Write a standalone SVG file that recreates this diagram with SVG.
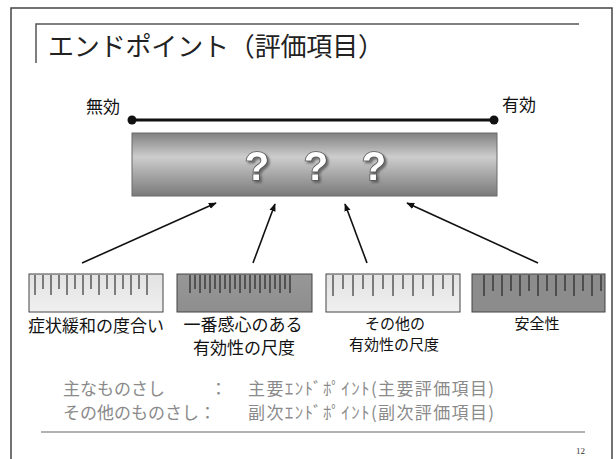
<svg xmlns="http://www.w3.org/2000/svg" width="616" height="459" viewBox="0 0 616 459">
<style>
.jp{font-family:"Noto Sans CJK JP","Noto Sans",sans-serif}
.lbl{font-size:17px;fill:#111}
.lbl2{font-size:15px;fill:#111}
.row{font-size:17px;fill:#8a8a8a}
.q{font-family:"Liberation Sans",Arial,sans-serif;font-weight:bold;font-size:40px;fill:#fff;stroke:#555;stroke-width:1.6;paint-order:stroke;text-anchor:middle;filter:url(#sh)}
.tick{stroke:#111;stroke-width:1;fill:none}
.rl{fill:url(#light);stroke:#444;stroke-width:1}
.rd{fill:url(#dark);stroke:#444;stroke-width:1}
.arr{stroke:#111;stroke-width:1.6;fill:none;marker-end:url(#ah)}
</style>
<defs>
<filter id="sh" x="-30%" y="-30%" width="160%" height="160%">
<feDropShadow dx="2" dy="2" stdDeviation="0.8" flood-color="#555" flood-opacity="0.8"/>
</filter>
<linearGradient id="bar" x1="0" y1="0" x2="0" y2="1">
<stop offset="0" stop-color="#808080"/>
<stop offset="0.15" stop-color="#9e9e9e"/>
<stop offset="0.38" stop-color="#cdcdcd"/>
<stop offset="0.65" stop-color="#a8a8a8"/>
<stop offset="1" stop-color="#7a7a7a"/>
</linearGradient>
<linearGradient id="light" x1="0" y1="0" x2="0" y2="1">
<stop offset="0" stop-color="#e2e2e2"/>
<stop offset="1" stop-color="#f0f0f0"/>
</linearGradient>
<linearGradient id="dark" x1="0" y1="0" x2="0" y2="1">
<stop offset="0" stop-color="#979797"/>
<stop offset="1" stop-color="#8e8e8e"/>
</linearGradient>
<marker id="ah" viewBox="0 0 10 10" refX="9" refY="5" markerWidth="5" markerHeight="5" orient="auto" markerUnits="strokeWidth">
<path d="M0,1 L10,5 L0,9 z" fill="#111"/>
</marker>
</defs>
<rect width="616" height="459" fill="#fff"/>
<rect x="11" y="8" width="601" height="470" fill="none" stroke="#444" stroke-width="1.5"/>
<g id="title">
<path d="M36 63 V24 H579" fill="none" stroke="#555" stroke-width="1.5"/>
<text class="jp" x="48" y="56" font-size="26" fill="#222" textLength="336">エンドポイント（評価項目）</text>
</g>
<g id="scale">
<line x1="132" y1="120" x2="494" y2="120" stroke="#111" stroke-width="3"/>
<circle cx="132" cy="120" r="4.5" fill="#111"/>
<circle cx="494" cy="120" r="4.5" fill="#111"/>
<text class="jp" x="86" y="113" font-size="17" fill="#111">無効</text>
<text class="jp" x="502" y="111" font-size="17" fill="#111">有効</text>
</g>
<g id="box">
<rect x="132" y="133" width="365" height="63" fill="url(#bar)" stroke="#6a6a6a" stroke-width="1"/>
<text class="q" x="257" y="180">?</text>
<text class="q" x="316" y="180">?</text>
<text class="q" x="374" y="180">?</text>
</g>
<g id="connectors">
<line class="arr" x1="82" y1="263" x2="216" y2="203"/>
<line class="arr" x1="253" y1="263" x2="275" y2="204"/>
<line class="arr" x1="367" y1="263" x2="345" y2="204"/>
<line class="arr" x1="538" y1="263" x2="407" y2="203"/>
</g>
<g id="ruler1">
<rect class="rl" x="29" y="274" width="134" height="38"/>
<path class="tick" d="M35 275v20M43 275v14M51 275v20M59 275v14M67 275v20M75 275v14M83 275v20M91 275v14M99 275v20M107 275v14M115 275v20M123 275v14M131 275v20M139 275v14M147 275v20"/>
<text class="jp lbl" x="96" y="332" text-anchor="middle">症状緩和の度合い</text>
</g>
<g id="ruler2">
<rect class="rd" x="177" y="274" width="135" height="38"/>
<path class="tick" d="M190 275v18M195 275v14M200 275v18M205 275v14M210 275v18M215 275v14M220 275v18M225 275v14M230 275v18M235 275v14M240 275v18M245 275v14M250 275v18M255 275v14M260 275v18M265 275v14M270 275v18M275 275v14M280 275v18M285 275v14M290 275v18"/>
<text class="jp lbl" x="243" y="331" text-anchor="middle">一番感心のある</text>
<text class="jp lbl" x="244" y="354" text-anchor="middle">有効性の尺度</text>
</g>
<g id="ruler3">
<rect class="rl" x="326" y="274" width="134" height="38"/>
<path class="tick" d="M333 275v21M343 275v14M353 275v21M363 275v14M373 275v21M383 275v14M393 275v21M403 275v14M413 275v21M423 275v14M433 275v21M443 275v14M453 275v21"/>
<text class="jp lbl2" x="395" y="329" text-anchor="middle">その他の</text>
<text class="jp lbl2" x="394" y="350" text-anchor="middle">有効性の尺度</text>
</g>
<g id="ruler4">
<rect class="rd" x="472" y="274" width="133" height="38" style="fill:#8c8c8c"/>
<path class="tick" d="M484 275v21M493 275v16M502 275v21M511 275v16M520 275v21M529 275v16M538 275v21M547 275v16M556 275v21M565 275v16M574 275v21M583 275v16M592 275v21M601 275v16"/>
<text class="jp lbl2" x="537" y="329" text-anchor="middle">安全性</text>
</g>
<g id="legend">
<text class="jp row" x="63" y="395">主なものさし</text>
<text class="jp row" x="210" y="395">：</text>
<text class="jp row" x="248" y="395" textLength="246">主要ｴﾝﾄﾞﾎﾟｲﾝﾄ(主要評価項目)</text>
<text class="jp row" x="63" y="419">その他のものさし：</text>
<text class="jp row" x="248" y="419" textLength="246">副次ｴﾝﾄﾞﾎﾟｲﾝﾄ(副次評価項目)</text>
</g>
<g id="footer">
<line x1="41" y1="432" x2="585" y2="432" stroke="#666" stroke-width="1.2"/>
<text x="585" y="454" font-family="Liberation Serif,serif" font-size="9" fill="#333" text-anchor="end">12</text>
</g>
</svg>
